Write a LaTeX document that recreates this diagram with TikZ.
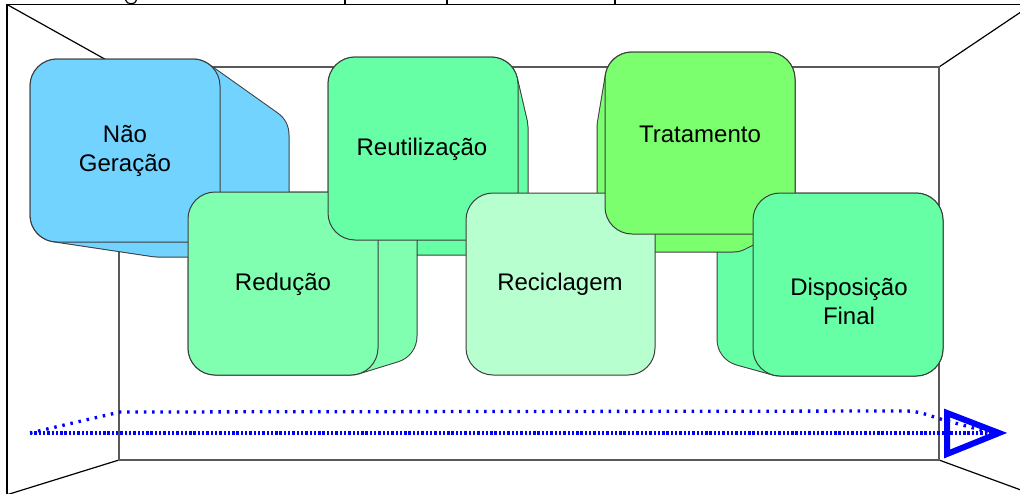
\documentclass[tikz,border=0pt]{standalone}
\usepackage{fontspec}
\setmainfont{Liberation Sans}
\definecolor{edgegray}{RGB}{60,60,60}
\definecolor{cblue}{RGB}{115,211,255}
\definecolor{cred}{RGB}{128,255,176}
\definecolor{creu}{RGB}{102,255,166}
\definecolor{crec}{RGB}{184,255,208}
\definecolor{ctra}{RGB}{123,255,110}
\definecolor{cdis}{RGB}{102,255,166}
\definecolor{arrowblue}{RGB}{0,0,255}
\newcommand\blockhull[2]{%
  \draw[line width=55pt,line join=round,draw=edgegray] #2 -- cycle;
  \filldraw[line width=53pt,line join=round,draw=#1,fill=#1] #2 -- cycle;}
\begin{document}
\begin{tikzpicture}[x=1pt,y=-1pt,
  frameline/.style={line width=1.2pt,draw=black},
  innerline/.style={line width=1.4pt,draw=black!65},
  face/.style={draw=edgegray,line width=1pt,rounded corners=27pt},
  lbl/.style={font=\fontsize{24}{29}\selectfont,inner sep=0pt,anchor=base},
  bigdots/.style={draw=arrowblue,line width=3.3pt,dash pattern=on 2.5pt off 5.8pt},
  smalldots/.style={draw=arrowblue,line width=3.3pt,dash pattern=on 2.4pt off 1.9pt}]
\useasboundingbox (0,0) rectangle (1020,493);
\clip (0,0) rectangle (1020,493);
% frame
\coordinate (OTL) at (7,4.5);
\coordinate (OTR) at (1032,4.5);
\coordinate (OBL) at (-10,500);
\coordinate (OBR) at (1040,497);
\coordinate (ITL) at (119,67);
\coordinate (ITR) at (939,67);
\coordinate (IBL) at (119,460);
\coordinate (IBR) at (939,460);
\draw[frameline] (7,520) -- (OTL) -- (OTR);
\draw[frameline] (OTL) -- (ITL);
\draw[frameline] (ITR) -- (OTR);
\draw[frameline] (IBL) -- (OBL);
\draw[frameline] (IBR) -- (OBR);
\draw[innerline] (ITL) rectangle (IBR);
% cut-off descenders of the title above
\draw[line width=1.2pt] (125.5,0) .. controls (126.5,5) and (136,5) .. (136.5,0);
\fill (344.3,0) rectangle (346.2,4);
\fill (446.3,0) rectangle (448.2,4);
\fill (614.3,0) rectangle (616.2,4);
% dotted arrow
\coordinate (A0) at (30,433);
\coordinate (A1) at (120,412);
\coordinate (A2) at (905,411);
\coordinate (A3) at (944,420);
\coordinate (A4) at (988,432);
\coordinate (B1) at (990,433);
\draw[bigdots] (A0) -- (A1) -- (A2) to[out=0,in=165] (A3) -- (A4);
\draw[smalldots] (A0) -- (B1);
\coordinate (T1) at (947,413);
\coordinate (T2) at (999,433);
\coordinate (T3) at (947,454);
\draw[arrowblue,line width=6pt,line join=miter] (T1) -- (T2) -- (T3) -- cycle;
% hulls (back parts)
\blockhull{cdis}{(780,220) -- (916,220) -- (916,349) -- (780,349) -- (744,339) -- (744,232)}
\blockhull{ctra}{(632,79) -- (768,79) -- (768,207) -- (733,225) -- (624,225) -- (624,127)}
\blockhull{creu}{(355,84) -- (491,84) -- (501,127) -- (501,228) -- (385,228) -- (355,213)}
\blockhull{cred}{(215,219) -- (351,219) -- (390,225) -- (390,336) -- (351,348) -- (215,348)}
\blockhull{cblue}{(57,86) -- (193,86) -- (262,135) -- (262,230) -- (157,230) -- (57,215)}
% front faces
\filldraw[face,fill=cblue] (30,59) rectangle (220,242);
\node[lbl] (nao) at (125,142) {Não};
\node[lbl] (ger) at (125,171) {Geração};
\filldraw[face,fill=cred] (188,192) rectangle (378,375);
\node[lbl] (red) at (283,290) {Redução};
\filldraw[face,fill=creu] (328,57) rectangle (518,240);
\node[lbl] (reu) at (422,155) {Reutilização};
\filldraw[face,fill=crec] (466,193) rectangle (655,375);
\node[lbl] (rec) at (560,290) {Reciclagem};
\filldraw[face,fill=ctra] (605,52) rectangle (795,234);
\node[lbl] (tra) at (700,142) {Tratamento};
\filldraw[face,fill=cdis] (753,193) rectangle (943,376);
\node[lbl] (dis) at (849,295) {Disposição};
\node[lbl] (fin) at (849,324) {Final};
\end{tikzpicture}
\end{document}
